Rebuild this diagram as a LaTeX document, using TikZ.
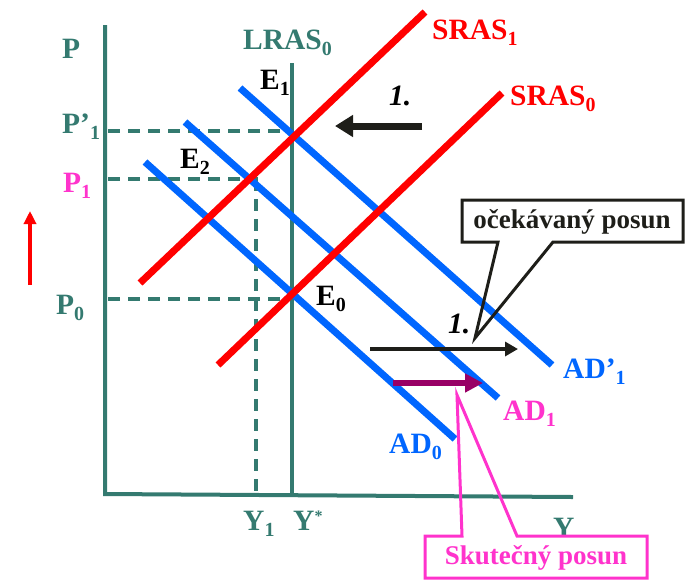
\documentclass[tikz,border=0pt]{standalone}
\usepackage{fontspec}
\setmainfont{Liberation Serif}
\usetikzlibrary{arrows.meta}
\definecolor{teal1}{RGB}{52,122,112}
\definecolor{adblue}{RGB}{0,102,255}
\definecolor{pink1}{RGB}{255,51,204}
\definecolor{purp}{RGB}{153,0,102}
\definecolor{dark}{RGB}{30,30,25}
\newcommand{\sbs}[1]{\raisebox{-6pt}{\fontsize{20}{20}\selectfont #1}}
\begin{document}
\begin{tikzpicture}[x=1pt,y=-1pt,
  lbl/.style={anchor=base west, inner sep=0pt, font=\fontsize{29.5}{31}\selectfont\bfseries},
  boxtxt/.style={inner sep=0pt, font=\fontsize{27}{29}\selectfont\bfseries},
  curve/.style={line width=7pt},
  axisline/.style={teal1, line width=4pt},
  guide/.style={teal1, line width=3.5pt, dash pattern=on 12pt off 8pt}]
\useasboundingbox (0,0) rectangle (695,582);

% axes
\coordinate (ytop) at (105,25);
\coordinate (orig) at (105,494);
\coordinate (xend) at (573,497);
\draw[axisline] (ytop) -- (orig) -- (xend);

% guides
\draw[guide] (108,131) -- (292,131);
\draw[guide] (108,179) -- (258,179);
\draw[guide] (256,179) -- (256,495);
\draw[guide] (108,299) -- (292,299);

% LRAS
\coordinate (lrasT) at (292,63);
\coordinate (lrasB) at (292,495);
\draw[axisline] (lrasT) -- (lrasB);

% AD curves
\coordinate (adpA) at (240,88);  \coordinate (adpB) at (552,365);
\coordinate (ad1A) at (185,122); \coordinate (ad1B) at (498,398);
\coordinate (ad0A) at (145,162); \coordinate (ad0B) at (455,439);
\draw[curve, adblue] (adpA) -- (adpB);
\draw[curve, adblue] (ad1A) -- (ad1B);
\draw[curve, adblue] (ad0A) -- (ad0B);

% SRAS curves
\coordinate (s1A) at (140,283); \coordinate (s1B) at (425,12);
\coordinate (s0A) at (218,365); \coordinate (s0B) at (502,93);
\draw[curve, red] (s1A) -- (s1B);
\draw[curve, red] (s0A) -- (s0B);

% red up arrow
\coordinate (ra1) at (30,285); \coordinate (ra2) at (30,211);
\draw[red, line width=4pt, -{Triangle[length=13pt,width=12pt]}] (ra1) -- (ra2);

% arrows
\coordinate (la1) at (422,126); \coordinate (la2) at (335,126);
\draw[dark, line width=7pt, -{Triangle[length=18pt,width=21pt]}] (la1) -- (la2);
\coordinate (rb1) at (370,349); \coordinate (rb2) at (518,349);
\draw[dark, line width=4pt, -{Triangle[length=13pt,width=14pt]}] (rb1) -- (rb2);
\coordinate (pa1) at (393,383); \coordinate (pa2) at (483,383);
\draw[purp, line width=6pt, -{Triangle[length=18pt,width=18pt]}] (pa1) -- (pa2);

% labels
\node[lbl, teal1] (lP) at (62,58) {P};
\node[lbl, teal1] (lLRAS) at (243,49) {LRAS\sbs{0}};
\node[lbl] (lE1) at (260,89) {E\sbs{1}};
\node[lbl, teal1] (lPp1) at (62,133) {P’\sbs{1}};
\node[lbl] (lE2) at (180,168) {E\sbs{2}};
\node[lbl, pink1] (lP1) at (63,192) {P\sbs{1}};
\node[lbl, teal1] (lP0) at (56,314) {P\sbs{0}};
\node[lbl] (lE0) at (316,305) {E\sbs{0}};
\node[lbl, teal1] (lY1) at (243,530) {Y\sbs{1}};
\node[lbl, teal1] (lYs) at (293,530) {Y\raisebox{9pt}{\fontsize{16}{16}\selectfont *}};
\node[lbl, teal1] (lY) at (553,537) {Y};
\node[lbl, red] (lS1) at (432,39) {SRAS\sbs{1}};
\node[lbl, red] (lS0) at (510,105) {SRAS\sbs{0}};
\node[lbl, font=\fontsize{29.5}{31}\selectfont\bfseries\itshape] (lone1) at (389,105) {1.};
\node[lbl, font=\fontsize{29.5}{31}\selectfont\bfseries\itshape] (lone2) at (448,333) {1.};
\node[lbl, adblue] (lADp) at (563,378) {AD’\sbs{1}};
\node[lbl, pink1] (lAD1) at (503,420) {AD\sbs{1}};
\node[lbl, adblue] (lAD0) at (389,453) {AD\sbs{0}};

% callout: ocekavany posun
\fill[white] (462,200) rectangle (683,242);
\coordinate (c1tip) at (475,338);
\draw[dark, line width=3pt, line join=miter] (498,242) -- (462,242) -- (462,200) -- (683,200) -- (683,242) -- (553,242) -- (c1tip) -- cycle;
\node[boxtxt, dark] (t1) at (572,222) {očekávaný posun};

% callout: skutecny posun
\fill[white] (425,536) rectangle (647,578);
\coordinate (c2tip) at (457,395);
\draw[pink1, line width=3pt, line join=miter] (462,536) -- (425,536) -- (425,578) -- (647,578) -- (647,536) -- (517,536) -- (c2tip) -- cycle;
\node[boxtxt, pink1] (t2) at (536,558) {Skutečný posun};
\end{tikzpicture}
\end{document}
